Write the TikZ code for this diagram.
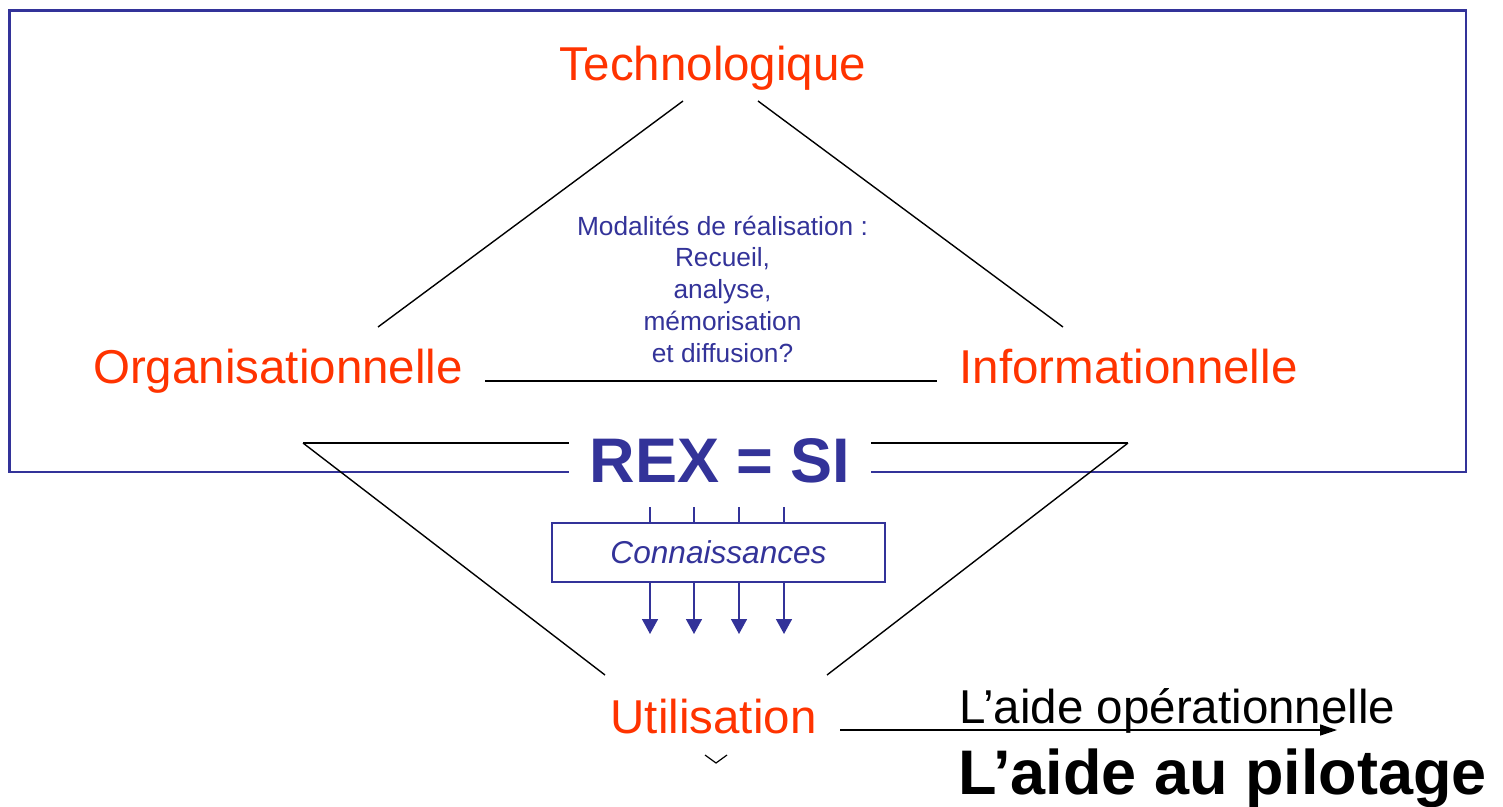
\documentclass[tikz,border=0pt]{standalone}
\usepackage{fontspec}
\setmainfont{Liberation Sans}
\usetikzlibrary{arrows.meta,calc}
\definecolor{orangered}{HTML}{FF3300}
\definecolor{navy}{HTML}{333399}
\tikzset{
  pole/.style={text=orangered, inner sep=0pt, anchor=base, font=\fontsize{47.5}{57}\selectfont},
  blk/.style={draw=black, line width=1.4pt},
  bluebox/.style={draw=navy, line width=2.2pt},
  bluethin/.style={draw=navy, line width=1.5pt},
  downarrow/.style={bluethin, -{Triangle[width=16pt,length=15pt]}},
}
\begin{document}
\begin{tikzpicture}[x=1pt,y=-1pt]
\useasboundingbox (0,0) rectangle (1503,806);
% frame
\draw[bluebox] (9.5,10.5) rectangle (1466,472);
% named points
\coordinate (T1) at (683,101);
\coordinate (T2) at (758,101);
\coordinate (L1) at (378,327);
\coordinate (R1) at (1063,327);
\coordinate (H1) at (485,381);
\coordinate (H2) at (937,381);
\coordinate (V1) at (303,443);
\coordinate (V2) at (1128,443);
\coordinate (U1) at (605,675);
\coordinate (U2) at (827,675);
\coordinate (A1) at (840,730);
\coordinate (A2) at (1337,730);
% upper triangle
\draw[blk] (T1) -- (L1);
\draw[blk] (T2) -- (R1);
\draw[blk] (H1) -- (H2);
% lower triangle
\draw[blk] (V1) -- (V2);
\draw[blk] (V1) -- (U1);
\draw[blk] (V2) -- (U2);
% texts
\node[pole] (tech) at (713,80) {Technologique};
\node[pole] (org) at (278,383) {Organisationnelle};
\node[pole] (info) at (1128.5,383) {Informationnelle};
\node[pole] (util) at (713.5,733) {Utilisation};
\node[text=navy, align=center, inner sep=0pt, anchor=base,
      font=\fontsize{26.3}{31.75}\selectfont] (modal) at (722.5,362)
  {Modalités de réalisation :\\Recueil,\\analyse,\\mémorisation\\et diffusion?};
\node[fill=white, text=navy, inner xsep=21pt, inner ysep=10pt, anchor=base,
      font=\fontsize{63}{75}\selectfont\bfseries] (rex) at (720,482) {REX = SI};
% connaissances box
\node[bluethin, fill=white, minimum width=333pt, minimum height=59pt, inner sep=0pt,
      text=navy, font=\fontsize{31.6}{38}\selectfont\itshape] (conn) at (718.5,552.5) {Connaissances};
\foreach \i/\x in {1/650,2/694,3/739,4/784}{
  \coordinate (k\i) at (\x,507);
  \coordinate (d\i) at (\x,634);
  \draw[bluethin] (k\i) -- (conn.north -| k\i);
  \draw[downarrow] (conn.south -| d\i) -- (d\i);
}
% output arrow
\draw[blk, line width=1.3pt, -{Triangle[width=11pt,length=17pt]}] (A1) -- (A2);
\node[inner sep=0pt, anchor=base, font=\fontsize{47.5}{57}\selectfont] (op) at (1177.5,723) {L’aide opérationnelle};
\node[inner sep=0pt, anchor=base, font=\fontsize{63}{75}\selectfont\bfseries] (pil) at (1222.5,794) {L’aide au pilotage};
% small chevron
\coordinate (c1) at (705,755);
\coordinate (c2) at (716,763);
\coordinate (c3) at (727,755);
\draw[blk, line width=1.2pt] (c1) -- (c2) -- (c3);
\end{tikzpicture}
\end{document}
